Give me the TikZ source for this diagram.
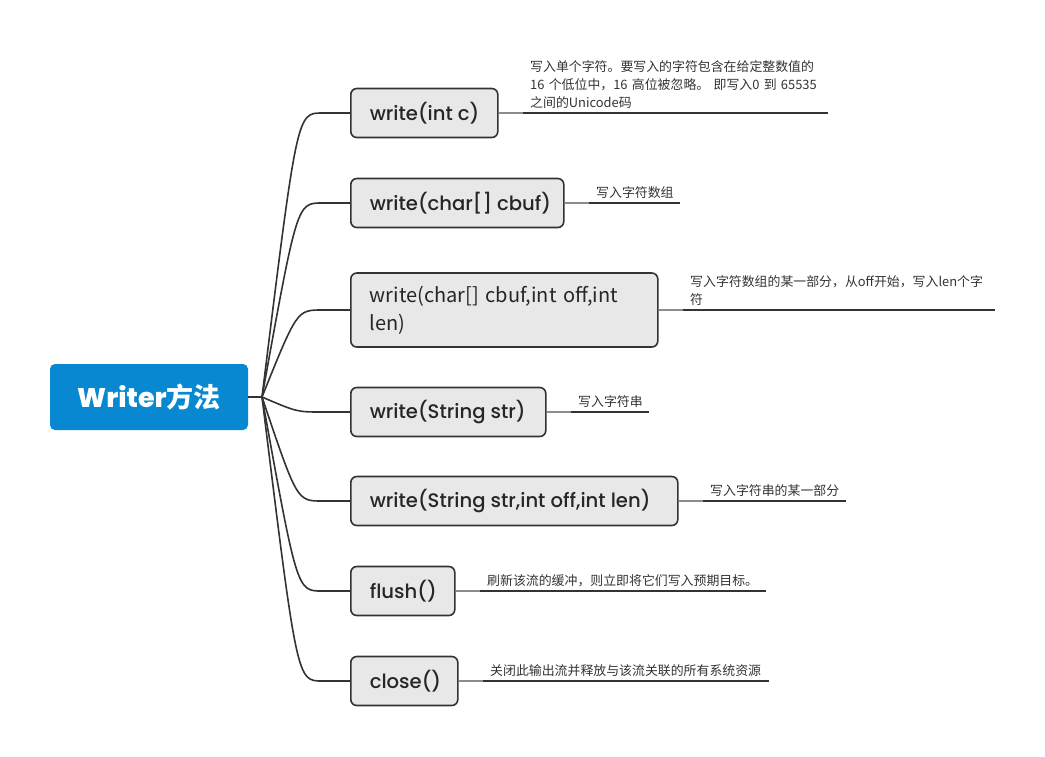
\documentclass[tikz,border=0pt]{standalone}
\usepackage{fontspec}
\setmainfont{Poppins Medium}
\newfontfamily\cjk{Noto Sans CJK SC}
\definecolor{rootblue}{HTML}{0788D0}
\definecolor{boxfill}{HTML}{E8E8E8}
\definecolor{edge}{HTML}{333333}
\definecolor{notec}{HTML}{333333}
\newcommand{\lbox}[2]{\makebox[#1pt][l]{#2}}
\begin{document}
\begin{tikzpicture}[x=1pt,y=-1pt,
  root/.style={fill=rootblue,rounded corners=5pt,minimum width=198pt,minimum height=66pt,text=white,font=\fontsize{27}{30}\selectfont\bfseries,inner sep=0pt},
  mbox/.style={draw=edge,line width=1.6pt,fill=boxfill,rounded corners=6pt,minimum height=49pt,anchor=west,inner xsep=19pt,inner ysep=0pt,align=left,font=\fontsize{19.6}{24}\selectfont,text=black!85},
  note/.style={anchor=south west,inner xsep=7pt,inner ysep=4pt,align=left,font=\cjk\fontsize{12.9}{18}\selectfont,text=notec},
  uline/.style={draw=edge,line width=1.1pt},
  link/.style={draw=black!45,line width=1.1pt},
  branch/.style={draw=edge,line width=1.6pt}]
\useasboundingbox (0,0) rectangle (1045,756);
\node[root] (root) at (149,397) {Writer{\cjk 方法}};
\coordinate (j) at (262,397);
\node[mbox] (b1) at (350,113) {\lbox{109}{write(int c)}};
\node[mbox] (b2) at (350,203) {\lbox{175}{write(char[] cbuf)}};
\node[mbox,minimum height=74pt,text width=269pt,font=\cjk\fontsize{20}{28}\selectfont] (b3) at (350,310) {write(char[] cbuf,int off,int\\len)};
\node[mbox] (b4) at (350,412) {\lbox{157}{write(String str)}};
\node[mbox] (b5) at (350,501) {\lbox{289}{write(String str,int off,int len)}};
\node[mbox] (b6) at (350,591) {\lbox{66}{flush()}};
\node[mbox] (b7) at (350,681) {\lbox{69}{close()}};
\draw[branch] (root.east) -- (j);
\foreach \b/\y in {b1/113,b2/203,b3/310,b4/412,b5/501,b6/591,b7/681}{
  \draw[branch] (j) .. controls (297,\y) and (297,\y) .. (322,\y) -- (\b.west);
}
\node[note,text width=291pt] (n1) at (523,113) {写入单个字符。要写入的字符包含在给定整数值的\\16 个低位中，16 高位被忽略。 即写入0 到 65535\\之间的Unicode码};
\node[note,text width=77pt] (n2) at (589,203) {写入字符数组};
\node[note,text width=298pt] (n3) at (683,310) {写入字符数组的某一部分，从off开始，写入len个字\\符};
\node[note,text width=64pt] (n4) at (571,412) {写入字符串};
\node[note,text width=129pt] (n5) at (703,501) {写入字符串的某一部分};
\node[note,text width=272pt] (n6) at (480,591) {刷新该流的缓冲，则立即将它们写入预期目标。};
\node[note,text width=272pt] (n7) at (483,681) {关闭此输出流并释放与该流关联的所有系统资源};
\foreach \i in {1,...,7}{
  \draw[link] (b\i.east) -- (n\i.south west);
  \draw[uline] (n\i.south west) -- (n\i.south east);
}
\end{tikzpicture}
\end{document}
